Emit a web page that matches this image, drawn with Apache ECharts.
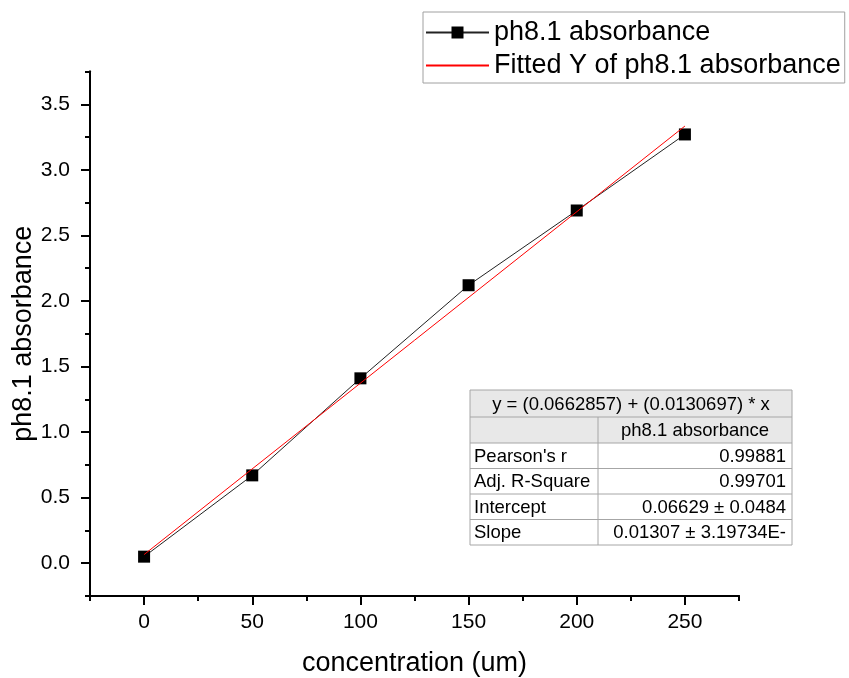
<!DOCTYPE html>
<html>
<head>
<meta charset="utf-8">
<script src="https://cdn.jsdelivr.net/npm/echarts@6/dist/echarts.min.js"></script>
<style>
html, body { margin: 0; padding: 0; background: #fff; }
#main { width: 849px; height: 678px; }
</style>
</head>
<body>
<div id="main"></div>
<script>
// measured points
const concentration = [0, 50, 100, 150, 200, 250];
const absorbance = [0.05, 0.67, 1.41, 2.12, 2.69, 3.27];
// fitted line end points
const fitX = [0, 250];
const fitY = [0.066, 3.334];

const xMajorTicks = [0, 50, 100, 150, 200, 250];
const xMinorTicks = [-25, 25, 75, 125, 175, 225, 275];
const yMajorTicks = [0, 0.5, 1, 1.5, 2, 2.5, 3, 3.5];
const yMinorTicks = [-0.25, 0.25, 0.75, 1.25, 1.75, 2.25, 2.75, 3.25, 3.75];

const tableTitle = 'y = (0.0662857) + (0.0130697) * x';
const tableHeader = 'ph8.1 absorbance';
const tableLabels = ["Pearson's r", 'Adj. R-Square', 'Intercept', 'Slope'];
const tableValues = ['0.99881', '0.99701', '0.06629 ± 0.0484', '0.01307 ± 3.19734E-'];

const FONT = 'Arial, "Liberation Sans", sans-serif';

var buildTable = function () {
    const left = 470, mid = 598, right = 792;
    const rowTops = [390, 417, 443, 468.5, 494, 519.5, 545];
    const border = '#a6a6a6';
    const els = [];
    els.push({
        type: 'rect',
        shape: { x: left, y: rowTops[0], width: right - left, height: rowTops[2] - rowTops[0] },
        style: { fill: '#e8e8e8' }
    });
    rowTops.forEach(function (y) {
        els.push({ type: 'line', shape: { x1: left, y1: y, x2: right, y2: y }, style: { stroke: border, lineWidth: 1 } });
    });
    els.push({ type: 'line', shape: { x1: left, y1: rowTops[0], x2: left, y2: rowTops[6] }, style: { stroke: border, lineWidth: 1 } });
    els.push({ type: 'line', shape: { x1: right, y1: rowTops[0], x2: right, y2: rowTops[6] }, style: { stroke: border, lineWidth: 1 } });
    els.push({ type: 'line', shape: { x1: mid, y1: rowTops[1], x2: mid, y2: rowTops[6] }, style: { stroke: border, lineWidth: 1 } });

    const txt = function (text, x, y, align) {
        return {
            type: 'text',
            x: x, y: y,
            style: { text: text, font: '18.5px ' + FONT, fill: '#000', align: align, verticalAlign: 'middle' }
        };
    };
    els.push(txt(tableTitle, (left + right) / 2, (rowTops[0] + rowTops[1]) / 2 + 1, 'center'));
    els.push(txt(tableHeader, (mid + right) / 2, (rowTops[1] + rowTops[2]) / 2 + 1, 'center'));
    tableLabels.forEach(function (label, i) {
        const cy = (rowTops[i + 2] + rowTops[i + 3]) / 2 + 1;
        els.push(txt(label, left + 4, cy, 'left'));
        els.push(txt(tableValues[i], right - 6, cy, 'right'));
    });
    return els;
};

const chart = echarts.init(document.getElementById('main'));

const axisLine = { show: true, onZero: false, lineStyle: { color: '#000', width: 2 } };

const option = {
    backgroundColor: '#fff',
    animation: false,
    textStyle: { fontFamily: FONT },
    grid: { left: 90, right: 110, top: 71.5, bottom: 82, outerBoundsMode: 'none' },
    legend: {
        orient: 'vertical',
        left: 423,
        top: 12,
        padding: [6, 4, 3, 2],
        itemGap: 4,
        itemWidth: 63,
        itemHeight: 15,
        borderColor: '#a0a0a0',
        borderWidth: 1,
        textStyle: { fontSize: 27, color: '#000', fontFamily: FONT, lineHeight: 29 },
        data: [
            { name: 'ph8.1 absorbance' },
            { name: 'Fitted Y of ph8.1 absorbance', itemStyle: { opacity: 0 } }
        ]
    },
    xAxis: [{
        type: 'value',
        min: -25,
        max: 275,
        name: 'concentration (um)',
        nameLocation: 'middle',
        nameGap: 54,
        nameMoveOverlap: false,
        nameTextStyle: { fontSize: 27, color: '#000', fontFamily: FONT },
        axisLine: axisLine,
        axisTick: { show: true, length: 9, lineStyle: { color: '#000', width: 2 }, customValues: xMajorTicks },
        axisLabel: { fontSize: 21, color: '#000', margin: 16, customValues: xMajorTicks },
        splitLine: { show: false }
    }, {
        type: 'value',
        min: -25,
        max: 275,
        position: 'bottom',
        axisLine: axisLine,
        axisTick: { show: true, length: 5, lineStyle: { color: '#000', width: 2 }, customValues: xMinorTicks },
        axisLabel: { show: false },
        splitLine: { show: false }
    }],
    yAxis: [{
        type: 'value',
        min: -0.25,
        max: 3.75,
        name: 'ph8.1 absorbance',
        nameLocation: 'middle',
        nameGap: 53,
        nameMoveOverlap: false,
        nameTextStyle: { fontSize: 27, color: '#000', fontFamily: FONT },
        axisLine: axisLine,
        axisTick: { show: true, length: 9, lineStyle: { color: '#000', width: 2 }, customValues: yMajorTicks },
        axisLabel: {
            fontSize: 21, color: '#000', margin: 20, customValues: yMajorTicks,
            formatter: function (v) { return v.toFixed(1); }
        },
        splitLine: { show: false }
    }, {
        type: 'value',
        min: -0.25,
        max: 3.75,
        position: 'left',
        axisLine: axisLine,
        axisTick: { show: true, length: 5, lineStyle: { color: '#000', width: 2 }, customValues: yMinorTicks },
        axisLabel: { show: false },
        splitLine: { show: false }
    }],
    series: [
        {
            name: 'ph8.1 absorbance',
            type: 'line',
            symbol: 'rect',
            symbolSize: 12,
            itemStyle: { color: '#000' },
            lineStyle: { color: '#222', width: 1 },
            data: concentration.map(function (x, i) { return [x, absorbance[i]]; }),
            z: 3
        },
        {
            name: 'Fitted Y of ph8.1 absorbance',
            type: 'line',
            symbol: 'none',
            itemStyle: { color: '#ff0000' },
            lineStyle: { color: '#ff0000', width: 1 },
            data: fitX.map(function (x, i) { return [x, fitY[i]]; }),
            z: 4
        }
    ],
    graphic: buildTable()
};

option && chart.setOption(option);
</script>
</body>
</html>
